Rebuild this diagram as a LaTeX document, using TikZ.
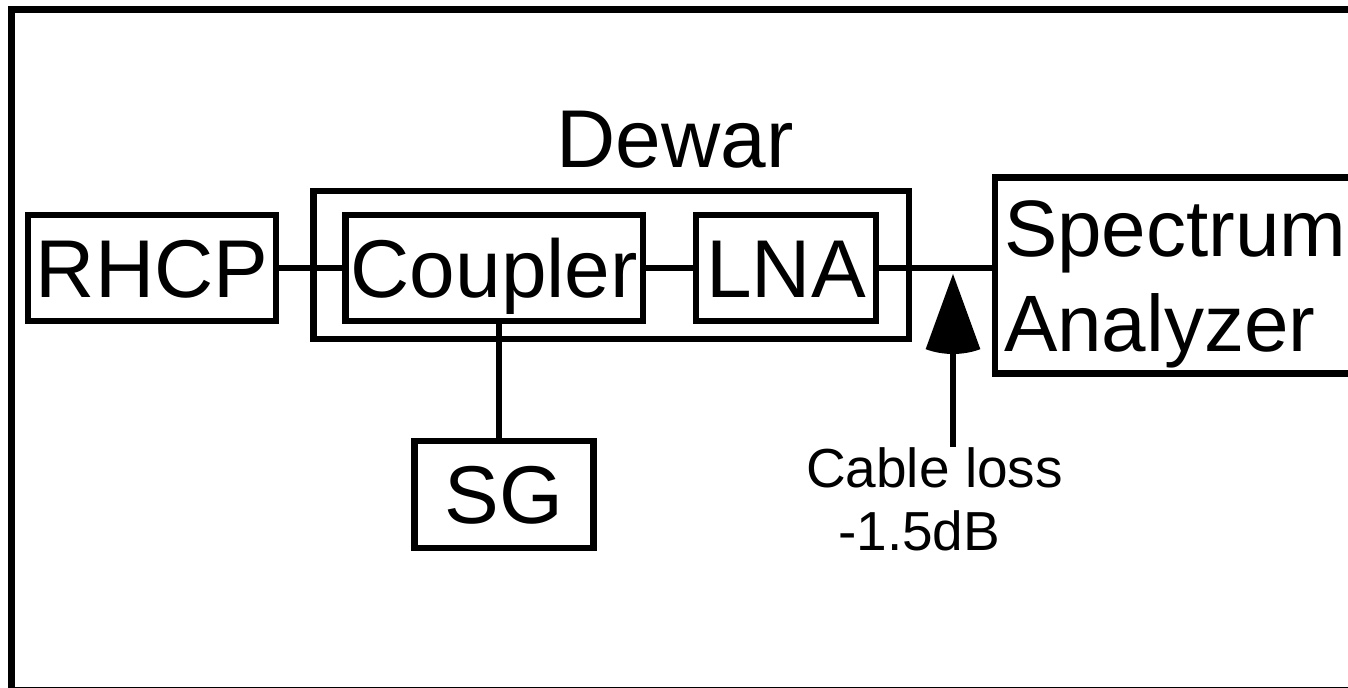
\documentclass[tikz,border=0pt]{standalone}
\usepackage{fontspec}
\setmainfont{Liberation Sans}
\usetikzlibrary{positioning,arrows.meta,calc}

\begin{document}
\begin{tikzpicture}[
  x=0.5pt, y=-0.5pt,
  bx/.style={draw, line width=3.3pt, inner sep=0pt, minimum height=53pt, minimum width=#1,
    font=\fontsize{41}{48}\selectfont, text height=29.4pt, text depth=0pt},
  bx/.default=90pt,
  wire/.style={line width=3pt},
  shaft/.style={line width=3.4pt},
  lab/.style={font=\fontsize{27.5}{31.5}\selectfont, align=center, inner sep=0pt}
]
\useasboundingbox (0,0) rectangle (1348,688);
\clip (0,0) rectangle (1348,688);
% ---------------- frame
\draw[line width=3.5pt] (11.7,9.5) rectangle (1400,690.5);
% ---------------- dewar
\node[bx=297.75pt, minimum height=74pt] (dewar) at (611.25,265) {};
\node[font=\fontsize{41}{48}\selectfont, text height=29.4pt, text depth=0pt, inner sep=0pt] (dewarlbl) at (675,138) {Dewar};
% ---------------- blocks
\node[bx=124pt] (rhcp) at (152,268) {RHCP};
\node[bx=148.75pt] (coupler) at (494.25,268) {Coupler};
\node[bx=90pt] (lna) at (786,268) {LNA};
\node[bx=89.25pt, minimum height=53.5pt] (sg) at (504,494.5) {SG};
\node[bx=200pt, minimum height=98pt, anchor=west, outer sep=0pt, inner xsep=4.5pt, text width=191pt, align=left,
  font=\fontsize{40}{47.5}\selectfont, text height=28.6pt, text depth=47.5pt] (sa) at (995,275.5) {Spectrum\\Analyzer};
% ---------------- cable loss
\node[lab, anchor=north] (loss) at (934.5,447) {Cable loss\\-1.5dB\hphantom{0}};
\coordinate (tip) at (953,274);
% ---------------- edges
\draw[wire] (rhcp) -- (coupler);
\draw[wire] (coupler) -- (lna);
\draw[wire] (lna.east) -- (lna.east -| sa.west);
\draw[wire] ([xshift=-2.5pt]sg.north) -- ([xshift=-2.5pt]sg.north |- coupler.south);
\draw[shaft] (loss.north -| tip) -- ([yshift=-35pt]tip);
\fill (tip) -- ++(-70:40pt) arc[start angle=-70, end angle=-110, radius=40pt] -- cycle;
\end{tikzpicture}
\end{document}
